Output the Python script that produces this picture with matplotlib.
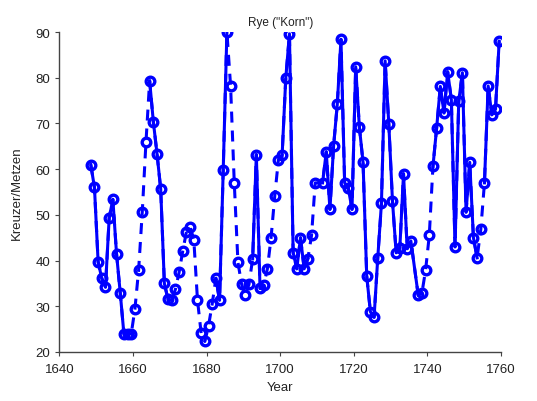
import numpy as np
import matplotlib
matplotlib.use("Agg")
import matplotlib.pyplot as plt

plt.rcParams['font.family'] = ['Liberation Sans', 'DejaVu Sans']

# Rye prices (Kreuzer per Metzen) by harvest year; 1710 and 1736 are not recorded
years = np.r_[1648:1710, 1711:1736, 1737:1760]
prices = [
    61.0, 56.0, 39.7, 36.1, 34.2, 49.3, 53.4, 41.5, 33.0, 24.0,
    24.0, 24.0, 29.4, 37.9, 50.7, 65.9, 79.3, 70.4, 63.4, 55.7,
    35.0, 31.5, 31.3, 33.7, 37.4, 42.1, 46.3, 47.4, 44.6, 31.4,
    24.1, 22.3, 25.7, 30.5, 36.1, 31.3, 59.9, 90.0, 78.2, 57.0,
    39.6, 34.8, 32.5, 34.8, 40.4, 63.2, 33.9, 34.6, 38.2, 45.0,
    54.1, 62.1, 63.0, 79.9, 89.6, 41.7, 38.2, 45.0, 38.2, 40.4,
    45.5, 57.0, 57.0, 63.8, 51.2, 65.1, 74.2, 88.4, 57.0, 55.8,
    51.2, 82.4, 69.2, 61.5, 36.6, 28.8, 27.6, 40.6, 52.5, 83.7,
    69.9, 53.0, 41.7, 42.8, 59.0, 42.6, 44.3, 32.4, 32.9, 37.9,
    45.5, 60.6, 69.0, 78.1, 72.3, 81.3, 75.2, 43.0, 74.8, 81.1,
    50.6, 61.5, 45.0, 40.6, 46.8, 57.0, 78.2, 71.9, 73.1, 88.0,
]
# 1 marks an interpolated estimate (joined to its neighbours by dashes)
estimated = [
    0, 0, 0, 0, 0, 0, 0, 0, 0, 0,
    0, 0, 1, 1, 1, 1, 0, 0, 0, 0,
    0, 0, 0, 1, 1, 1, 1, 1, 1, 1,
    1, 1, 1, 1, 0, 0, 0, 0, 1, 1,
    1, 1, 1, 1, 0, 0, 0, 0, 1, 1,
    1, 1, 0, 0, 0, 0, 0, 0, 0, 0,
    1, 1, 0, 0, 0, 0, 0, 0, 0, 0,
    0, 0, 0, 0, 0, 0, 0, 0, 0, 0,
    0, 0, 0, 0, 0, 0, 0, 0, 0, 1,
    1, 0, 0, 0, 0, 0, 0, 0, 0, 0,
    0, 0, 0, 0, 1, 0, 0, 0, 0, 0,
]

x = years + 0.5
y = np.array(prices, dtype=float)
y_solid = np.where(np.array(estimated) == 1, np.nan, y)

blue = '#0000ff'
fig = plt.figure(figsize=(5.37, 4.02), dpi=100)
ax = fig.add_axes([0.1108, 0.1219, 0.8222, 0.796])

ax.plot(x, y, color=blue, lw=2.2, ls=(0, (3.6, 2.6)), dash_capstyle='butt')
ax.plot(x, y_solid, color=blue, lw=2.2)
ax.plot(x, y, ls='none', marker='o', ms=6.2, mew=2.4, mec=blue, mfc='none')

ax.set_xlim(1640, 1760)
ax.set_ylim(20, 90)
ax.set_xticks(np.arange(1640, 1761, 20))
ax.set_yticks(np.arange(20, 91, 10))

for side in ('top', 'right'):
    ax.spines[side].set_visible(False)
for side in ('left', 'bottom'):
    ax.spines[side].set_color('#444444')
    ax.spines[side].set_linewidth(1.0)
ax.tick_params(direction='out', length=3, width=0.8, colors='#444444',
               labelcolor='#222222', labelsize=9.5)
ax.tick_params(axis='x', pad=5)

ax.set_title('Rye ("Korn")', fontsize=8.5, color='#222222', pad=5)
ax.set_xlabel('Year', fontsize=9.5, color='#222222', labelpad=4)
ax.set_ylabel('Kreuzer/Metzen', fontsize=9.5, color='#222222', labelpad=9)

fig.savefig('out.png', dpi=100)
